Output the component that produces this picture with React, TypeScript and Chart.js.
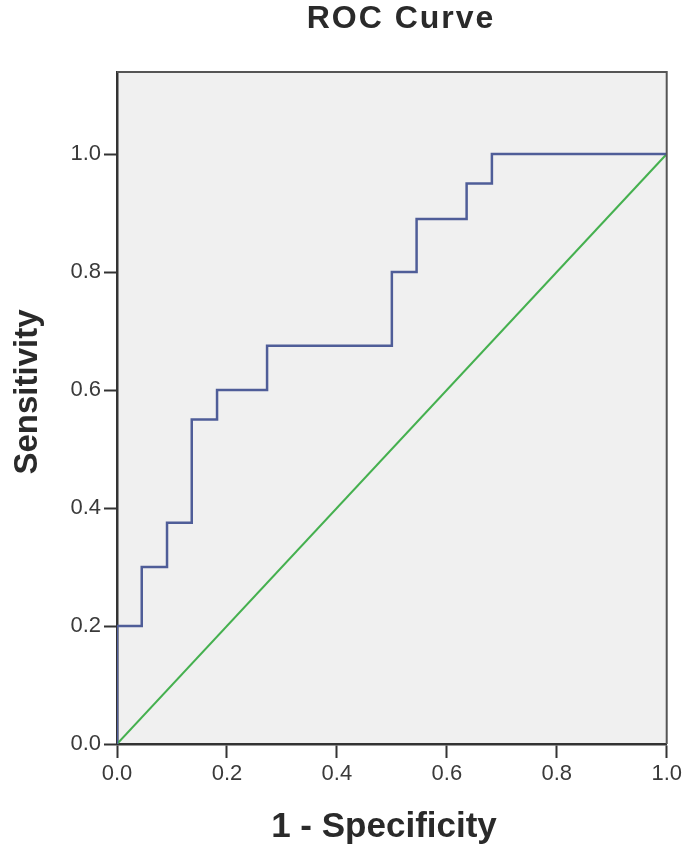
import React, { useEffect, useRef } from "react";
import { Chart, registerables } from "chart.js";

Chart.register(...registerables);

// ROC curve points (1 - specificity, sensitivity), stepped
const fprValues = [0, 0, 0.045, 0.091, 0.136, 0.182, 0.273, 0.5, 0.545, 0.636, 0.682, 1.0];
const tprValues = [0, 0.2, 0.3, 0.375, 0.55, 0.6, 0.675, 0.8, 0.89, 0.95, 1.0, 1.0];

// Reference diagonal
const refX = [0, 1];
const refY = [0, 1];

const xTickValues = [0, 0.2, 0.4, 0.6, 0.8, 1.0];
const yTickValues = [0, 0.2, 0.4, 0.6, 0.8, 1.0];

const chartTitle = "ROC Curve";
const xTitle = "1 - Specificity";
const yTitle = "Sensitivity";

const FONT = "'Liberation Sans', Arial, Helvetica, sans-serif";

const decorPlugin = {
  id: "decor",
  beforeDraw(chart: any) {
    const { ctx, chartArea } = chart;
    ctx.save();
    ctx.fillStyle = "#ffffff";
    ctx.fillRect(0, 0, chart.width, chart.height);
    ctx.fillStyle = "#f0f0f0";
    ctx.fillRect(chartArea.left, chartArea.top, chartArea.right - chartArea.left, chartArea.bottom - chartArea.top);
    ctx.restore();
  },
  afterDraw(chart: any) {
    const { ctx, chartArea } = chart;
    ctx.save();
    // top and right frame
    ctx.strokeStyle = "#555555";
    ctx.lineWidth = 2;
    ctx.beginPath();
    ctx.moveTo(chartArea.left, chartArea.top);
    ctx.lineTo(chartArea.right, chartArea.top);
    ctx.lineTo(chartArea.right, chartArea.bottom);
    ctx.stroke();

    ctx.fillStyle = "#2a2a2a";
    ctx.textAlign = "center";
    ctx.textBaseline = "alphabetic";
    // title
    ctx.font = `bold 32px ${FONT}`;
    (ctx as any).letterSpacing = "2px";
    ctx.fillText(chartTitle, 401, 28);
    (ctx as any).letterSpacing = "0px";
    // x title
    ctx.font = `bold 35px ${FONT}`;
    ctx.fillText(xTitle, 384, 837);
    // y title
    ctx.translate(37, 392);
    ctx.rotate(-Math.PI / 2);
    ctx.font = `bold 33px ${FONT}`;
    ctx.fillText(yTitle, 0, 0);
    ctx.restore();
  },
};

export default function App() {
  const canvasRef = useRef<HTMLCanvasElement | null>(null);

  useEffect(() => {
    document.body.style.margin = "0";
    const canvas = canvasRef.current;
    if (!canvas) return;
    const rocData = fprValues.map((x, i) => ({ x, y: tprValues[i] }));
    const refData = refX.map((x, i) => ({ x, y: refY[i] }));

    const tickFont = { family: FONT, size: 22 };

    const chart = new Chart(canvas, {
      type: "scatter",
      data: {
        datasets: [
          {
            label: "ROC",
            data: rocData,
            showLine: true,
            stepped: "before",
            borderColor: "#4f5d98",
            borderWidth: 2.5,
            pointRadius: 0,
            fill: false,
          },
          {
            label: "Reference",
            data: refData,
            showLine: true,
            borderColor: "#45b04f",
            borderWidth: 2,
            pointRadius: 0,
            fill: false,
          },
        ],
      },
      options: {
        responsive: false,
        animation: false,
        devicePixelRatio: 1,
        layout: { padding: { top: 72, right: 16, left: 0, bottom: 0 } },
        plugins: {
          legend: { display: false },
          tooltip: { enabled: false },
          title: { display: false },
        },
        scales: {
          x: {
            type: "linear",
            min: 0,
            max: 1,
            afterBuildTicks: (scale: any) => {
              scale.ticks = xTickValues.map((v) => ({ value: v }));
            },
            afterFit: (scale: any) => {
              scale.height = 103;
            },
            ticks: {
              font: tickFont,
              color: "#3a3a3a",
              padding: 3,
              maxRotation: 0,
              callback: (v: any) => Number(v).toFixed(1),
            },
            grid: {
              drawOnChartArea: false,
              drawTicks: true,
              tickLength: 14,
              tickColor: "#333333",
              tickWidth: 2,
            },
            border: { color: "#333333", width: 2.5 },
          },
          y: {
            type: "linear",
            min: 0,
            max: 1.139,
            afterBuildTicks: (scale: any) => {
              scale.ticks = yTickValues.map((v) => ({ value: v }));
            },
            afterFit: (scale: any) => {
              scale.width = 117;
            },
            ticks: {
              font: tickFont,
              color: "#3a3a3a",
              padding: 3,
              callback: (v: any) => Number(v).toFixed(1),
            },
            grid: {
              drawOnChartArea: false,
              drawTicks: true,
              tickLength: 13,
              tickColor: "#333333",
              tickWidth: 2,
            },
            border: { color: "#333333", width: 2.5 },
          },
        },
      },
      plugins: [decorPlugin],
    });
    return () => chart.destroy();
  }, []);

  return (
    <div style={{ position: "absolute", left: 0, top: 0, width: 685, height: 847 }}>
      <canvas ref={canvasRef} width={685} height={847} style={{ display: "block" }} />
    </div>
  );
}
